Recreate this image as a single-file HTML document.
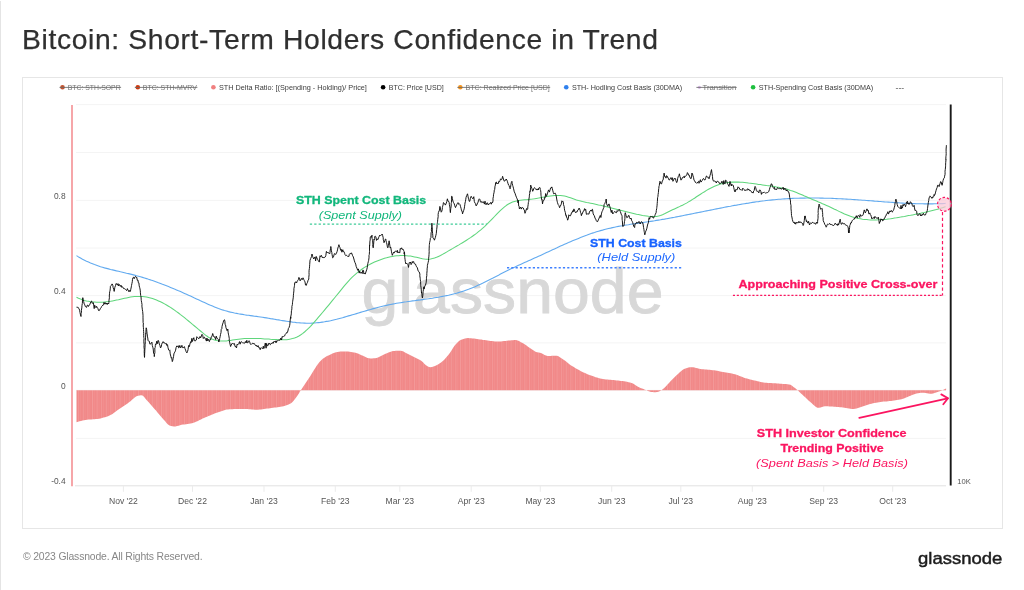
<!DOCTYPE html>
<html lang="en"><head><meta charset="utf-8"><title>Bitcoin: Short-Term Holders Confidence in Trend</title>
<style>
html,body{margin:0;padding:0;background:#fff;}
body{width:1024px;height:590px;position:relative;overflow:hidden;font-family:"Liberation Sans",sans-serif;}
.edge{position:absolute;left:0;top:1px;width:1px;height:589px;background:#e4e4e4;}
h1{position:absolute;left:22.3px;top:23px;transform-origin:0 0;transform:scaleX(1.032);margin:0;font-size:27.4px;line-height:34px;font-weight:400;color:#2f2f2f;white-space:nowrap;letter-spacing:0.62px;-webkit-text-stroke:0.25px #2f2f2f;}
.box{position:absolute;left:22px;top:76.5px;width:981px;height:452px;border:1px solid #e6e6e6;box-sizing:border-box;}
.foot{position:absolute;left:23px;top:549.9px;font-size:10.4px;line-height:14px;color:#878787;white-space:nowrap;letter-spacing:-0.16px;}
svg{position:absolute;left:0;top:0;}
svg text{font-family:"Liberation Sans",sans-serif;}
</style></head><body>
<div class="edge"></div>
<h1>Bitcoin: Short-Term Holders Confidence in Trend</h1>
<div class="box"></div>
<svg width="1024" height="590" viewBox="0 0 1024 590">
<defs>
<clipPath id="hc"><path d="M76.5 390.2 L76.5 422.3 L78.0 421.8 L79.5 421.3 L81.0 420.9 L82.5 420.5 L84.0 420.2 L85.5 419.9 L87.0 419.7 L88.5 419.6 L90.0 419.5 L91.5 419.4 L93.0 419.3 L94.5 419.2 L96.0 419.1 L97.5 418.9 L99.0 418.7 L100.5 418.4 L102.0 418.0 L103.5 417.6 L105.0 417.2 L106.5 416.7 L108.0 416.2 L109.5 415.6 L111.0 414.8 L112.5 413.9 L114.0 412.8 L115.5 411.7 L117.0 410.5 L118.5 409.4 L120.0 408.4 L121.5 407.4 L123.0 406.4 L124.5 405.4 L126.0 404.4 L127.5 403.4 L129.0 402.3 L130.5 401.2 L132.0 399.8 L133.5 398.4 L135.0 397.2 L136.5 396.2 L138.0 395.7 L139.5 395.4 L141.0 395.2 L142.5 395.4 L144.0 396.8 L145.5 398.7 L147.0 400.5 L148.5 402.1 L150.0 403.8 L151.5 405.5 L153.0 407.2 L154.5 408.9 L156.0 410.6 L157.5 412.4 L159.0 414.2 L160.5 416.0 L162.0 417.7 L163.5 419.4 L165.0 421.1 L166.5 422.9 L168.0 424.5 L169.5 425.4 L171.0 425.9 L172.5 426.3 L174.0 426.5 L175.5 426.4 L177.0 426.1 L178.5 425.7 L180.0 425.2 L181.5 424.8 L183.0 424.6 L184.5 424.4 L186.0 424.2 L187.5 424.0 L189.0 423.8 L190.5 423.5 L192.0 423.2 L193.5 422.8 L195.0 422.3 L196.5 421.6 L198.0 420.9 L199.5 420.1 L201.0 419.4 L202.5 418.6 L204.0 417.9 L205.5 417.3 L207.0 416.7 L208.5 416.0 L210.0 415.4 L211.5 414.8 L213.0 414.2 L214.5 413.6 L216.0 413.1 L217.5 412.6 L219.0 412.0 L220.5 411.5 L222.0 410.9 L223.5 410.4 L225.0 410.0 L226.5 409.6 L228.0 409.4 L229.5 409.2 L231.0 409.2 L232.5 409.2 L234.0 409.1 L235.5 409.1 L237.0 409.1 L238.5 409.0 L240.0 409.0 L241.5 409.0 L243.0 409.0 L244.5 409.0 L246.0 409.0 L247.5 409.1 L249.0 409.2 L250.5 409.3 L252.0 409.5 L253.5 409.6 L255.0 409.7 L256.5 409.7 L258.0 409.7 L259.5 409.6 L261.0 409.5 L262.5 409.3 L264.0 409.1 L265.5 408.8 L267.0 408.6 L268.5 408.4 L270.0 408.2 L271.5 408.0 L273.0 407.8 L274.5 407.6 L276.0 407.5 L277.5 407.3 L279.0 407.0 L280.5 406.8 L282.0 406.5 L283.5 406.2 L285.0 405.8 L286.5 405.3 L288.0 404.7 L289.5 404.0 L291.0 403.2 L292.5 401.9 L294.0 400.2 L295.5 398.2 L297.0 396.2 L298.5 394.0 L300.0 391.6 L301.5 389.3 L303.0 387.1 L304.5 384.8 L306.0 382.5 L307.5 380.3 L309.0 378.0 L310.5 375.7 L312.0 373.3 L313.5 370.8 L315.0 368.4 L316.5 366.1 L318.0 364.0 L319.5 362.1 L321.0 360.4 L322.5 359.0 L324.0 357.9 L325.5 356.9 L327.0 356.1 L328.5 355.4 L330.0 354.7 L331.5 354.0 L333.0 353.3 L334.5 352.7 L336.0 352.2 L337.5 351.9 L339.0 351.8 L340.5 351.6 L342.0 351.5 L343.5 351.4 L345.0 351.4 L346.5 351.4 L348.0 351.5 L349.5 351.7 L351.0 351.9 L352.5 352.2 L354.0 352.4 L355.5 352.7 L357.0 353.2 L358.5 353.8 L360.0 354.5 L361.5 355.2 L363.0 355.8 L364.5 356.5 L366.0 357.2 L367.5 357.9 L369.0 358.3 L370.5 358.4 L372.0 358.4 L373.5 358.3 L375.0 358.2 L376.5 357.9 L378.0 357.4 L379.5 356.8 L381.0 356.0 L382.5 355.2 L384.0 354.4 L385.5 353.8 L387.0 353.2 L388.5 352.5 L390.0 351.9 L391.5 351.4 L393.0 351.0 L394.5 350.9 L396.0 350.8 L397.5 350.7 L399.0 350.7 L400.5 350.7 L402.0 350.9 L403.5 351.6 L405.0 352.4 L406.5 353.2 L408.0 354.0 L409.5 354.7 L411.0 355.5 L412.5 356.2 L414.0 357.0 L415.5 357.8 L417.0 358.5 L418.5 359.2 L420.0 360.0 L421.5 360.9 L423.0 362.2 L424.5 363.9 L426.0 365.3 L427.5 366.2 L429.0 366.9 L430.5 367.2 L432.0 367.0 L433.5 366.5 L435.0 365.9 L436.5 365.3 L438.0 364.5 L439.5 363.6 L441.0 362.5 L442.5 361.3 L444.0 359.9 L445.5 358.3 L447.0 356.6 L448.5 354.7 L450.0 352.8 L451.5 350.4 L453.0 348.0 L454.5 345.8 L456.0 344.0 L457.5 342.4 L459.0 341.0 L460.5 340.1 L462.0 339.5 L463.5 338.9 L465.0 338.5 L466.5 338.2 L468.0 338.1 L469.5 338.2 L471.0 338.3 L472.5 338.4 L474.0 338.6 L475.5 338.8 L477.0 339.0 L478.5 339.2 L480.0 339.4 L481.5 339.6 L483.0 339.9 L484.5 340.1 L486.0 340.3 L487.5 340.6 L489.0 340.7 L490.5 340.9 L492.0 341.1 L493.5 341.3 L495.0 341.5 L496.5 341.6 L498.0 341.6 L499.5 341.6 L501.0 341.5 L502.5 341.3 L504.0 341.1 L505.5 340.9 L507.0 340.7 L508.5 340.6 L510.0 340.5 L511.5 340.3 L513.0 340.2 L514.5 340.1 L516.0 340.1 L517.5 340.5 L519.0 341.1 L520.5 341.9 L522.0 342.7 L523.5 343.5 L525.0 344.6 L526.5 345.6 L528.0 346.7 L529.5 347.7 L531.0 348.7 L532.5 349.8 L534.0 350.8 L535.5 351.7 L537.0 352.2 L538.5 352.4 L540.0 352.7 L541.5 353.2 L543.0 354.1 L544.5 354.9 L546.0 355.6 L547.5 355.9 L549.0 355.9 L550.5 355.9 L552.0 355.8 L553.5 355.7 L555.0 355.7 L556.5 355.7 L558.0 356.1 L559.5 356.9 L561.0 357.9 L562.5 358.9 L564.0 359.9 L565.5 361.1 L567.0 362.3 L568.5 363.6 L570.0 364.7 L571.5 365.7 L573.0 366.6 L574.5 367.6 L576.0 368.5 L577.5 369.3 L579.0 370.1 L580.5 370.9 L582.0 371.7 L583.5 372.4 L585.0 373.1 L586.5 373.8 L588.0 374.4 L589.5 375.0 L591.0 375.6 L592.5 376.1 L594.0 376.6 L595.5 377.2 L597.0 377.6 L598.5 378.1 L600.0 378.5 L601.5 378.8 L603.0 379.0 L604.5 379.2 L606.0 379.4 L607.5 379.6 L609.0 379.7 L610.5 379.8 L612.0 379.9 L613.5 380.1 L615.0 380.2 L616.5 380.4 L618.0 380.5 L619.5 380.7 L621.0 380.9 L622.5 381.1 L624.0 381.3 L625.5 381.5 L627.0 381.8 L628.5 382.2 L630.0 382.6 L631.5 383.1 L633.0 383.6 L634.5 384.4 L636.0 385.4 L637.5 386.4 L639.0 387.3 L640.5 387.9 L642.0 388.5 L643.5 389.1 L645.0 389.7 L646.5 390.3 L648.0 391.0 L649.5 391.6 L651.0 391.9 L652.5 392.1 L654.0 392.2 L655.5 392.3 L657.0 392.1 L658.5 391.7 L660.0 391.1 L661.5 390.3 L663.0 389.1 L664.5 387.8 L666.0 386.2 L667.5 384.6 L669.0 382.9 L670.5 381.3 L672.0 379.8 L673.5 378.2 L675.0 376.7 L676.5 375.2 L678.0 373.9 L679.5 372.5 L681.0 371.2 L682.5 370.0 L684.0 369.1 L685.5 368.4 L687.0 368.0 L688.5 367.6 L690.0 367.3 L691.5 367.2 L693.0 367.3 L694.5 367.5 L696.0 367.9 L697.5 368.3 L699.0 368.7 L700.5 369.0 L702.0 369.2 L703.5 369.3 L705.0 369.5 L706.5 369.6 L708.0 369.7 L709.5 369.8 L711.0 370.0 L712.5 370.2 L714.0 370.3 L715.5 370.6 L717.0 370.8 L718.5 371.1 L720.0 371.4 L721.5 371.7 L723.0 372.0 L724.5 372.2 L726.0 372.5 L727.5 372.8 L729.0 373.0 L730.5 373.3 L732.0 373.6 L733.5 374.0 L735.0 374.3 L736.5 374.7 L738.0 375.3 L739.5 375.9 L741.0 376.5 L742.5 377.1 L744.0 377.7 L745.5 378.2 L747.0 378.6 L748.5 379.1 L750.0 379.4 L751.5 379.8 L753.0 380.2 L754.5 380.5 L756.0 380.8 L757.5 381.2 L759.0 381.5 L760.5 381.9 L762.0 382.2 L763.5 382.5 L765.0 382.7 L766.5 382.8 L768.0 382.9 L769.5 383.0 L771.0 383.1 L772.5 383.2 L774.0 383.3 L775.5 383.3 L777.0 383.4 L778.5 383.5 L780.0 383.7 L781.5 383.8 L783.0 383.9 L784.5 384.0 L786.0 384.1 L787.5 384.3 L789.0 384.5 L790.5 384.8 L792.0 385.8 L793.5 387.0 L795.0 388.1 L796.5 389.3 L798.0 390.6 L799.5 391.9 L801.0 393.4 L802.5 394.8 L804.0 396.2 L805.5 397.6 L807.0 399.0 L808.5 400.4 L810.0 401.8 L811.5 403.1 L813.0 404.4 L814.5 405.8 L816.0 407.1 L817.5 407.7 L819.0 407.7 L820.5 407.4 L822.0 407.1 L823.5 406.6 L825.0 406.3 L826.5 406.3 L828.0 406.3 L829.5 406.4 L831.0 406.5 L832.5 406.6 L834.0 406.7 L835.5 406.8 L837.0 406.9 L838.5 407.0 L840.0 407.2 L841.5 407.3 L843.0 407.5 L844.5 407.7 L846.0 407.9 L847.5 408.2 L849.0 408.5 L850.5 408.8 L852.0 409.0 L853.5 409.0 L855.0 408.8 L856.5 408.4 L858.0 407.9 L859.5 407.5 L861.0 407.0 L862.5 406.6 L864.0 406.0 L865.5 405.5 L867.0 405.0 L868.5 404.5 L870.0 404.1 L871.5 403.7 L873.0 403.3 L874.5 403.0 L876.0 402.7 L877.5 402.4 L879.0 402.2 L880.5 402.0 L882.0 401.8 L883.5 401.6 L885.0 401.5 L886.5 401.4 L888.0 401.2 L889.5 401.1 L891.0 400.9 L892.5 400.7 L894.0 400.5 L895.5 400.3 L897.0 400.1 L898.5 399.8 L900.0 399.6 L901.5 399.2 L903.0 398.7 L904.5 398.2 L906.0 397.5 L907.5 396.9 L909.0 396.3 L910.5 395.7 L912.0 395.1 L913.5 394.5 L915.0 393.9 L916.5 393.5 L918.0 393.2 L919.5 393.0 L921.0 392.8 L922.5 392.7 L924.0 392.7 L925.5 393.0 L927.0 393.2 L928.5 393.5 L930.0 393.7 L931.5 393.7 L933.0 393.4 L934.5 393.0 L936.0 392.6 L937.5 392.1 L939.0 391.6 L940.5 391.1 L942.0 390.4 L943.5 389.8 L945.0 389.0 L946.1 388.4 L946.1 390.2 Z"/></clipPath>
<pattern id="stripes" width="4.6" height="10" patternUnits="userSpaceOnUse"><rect x="0" y="0" width="0.7" height="10" fill="#ffffff" opacity="0.18"/><rect x="2.3" y="0" width="0.5" height="10" fill="#ffffff" opacity="0.1"/></pattern>
</defs>
<g stroke="#f4f4f4" stroke-width="1" fill="none"><line x1="76" x2="946" y1="104.6" y2="104.6"/><line x1="76" x2="946" y1="152.5" y2="152.5"/><line x1="76" x2="946" y1="200.4" y2="200.4"/><line x1="76" x2="946" y1="248.0" y2="248.0"/><line x1="76" x2="946" y1="295.6" y2="295.6"/><line x1="76" x2="946" y1="342.9" y2="342.9"/><line x1="76" x2="946" y1="390.3" y2="390.3"/><line x1="76" x2="946" y1="438.4" y2="438.4"/></g>
<g stroke="#e2e2e2" stroke-width="1" fill="none"><line x1="75" x2="946" y1="485.8" y2="485.8"/></g><g stroke="#ebebeb" stroke-width="1" fill="none"><line x1="123.4" x2="123.4" y1="485.8" y2="491.8"/><line x1="192.5" x2="192.5" y1="485.8" y2="491.8"/><line x1="264.0" x2="264.0" y1="485.8" y2="491.8"/><line x1="335.3" x2="335.3" y1="485.8" y2="491.8"/><line x1="399.8" x2="399.8" y1="485.8" y2="491.8"/><line x1="471.2" x2="471.2" y1="485.8" y2="491.8"/><line x1="540.3" x2="540.3" y1="485.8" y2="491.8"/><line x1="611.7" x2="611.7" y1="485.8" y2="491.8"/><line x1="680.8" x2="680.8" y1="485.8" y2="491.8"/><line x1="752.3" x2="752.3" y1="485.8" y2="491.8"/><line x1="823.7" x2="823.7" y1="485.8" y2="491.8"/><line x1="892.7" x2="892.7" y1="485.8" y2="491.8"/></g>
<text x="361.5" y="313.2" font-size="62.5" fill="#d8d8d8" textLength="302" lengthAdjust="spacingAndGlyphs" stroke="#d8d8d8" stroke-width="0.8">glassnode</text>
<path d="M76.5 390.2 L76.5 422.3 L78.0 421.8 L79.5 421.3 L81.0 420.9 L82.5 420.5 L84.0 420.2 L85.5 419.9 L87.0 419.7 L88.5 419.6 L90.0 419.5 L91.5 419.4 L93.0 419.3 L94.5 419.2 L96.0 419.1 L97.5 418.9 L99.0 418.7 L100.5 418.4 L102.0 418.0 L103.5 417.6 L105.0 417.2 L106.5 416.7 L108.0 416.2 L109.5 415.6 L111.0 414.8 L112.5 413.9 L114.0 412.8 L115.5 411.7 L117.0 410.5 L118.5 409.4 L120.0 408.4 L121.5 407.4 L123.0 406.4 L124.5 405.4 L126.0 404.4 L127.5 403.4 L129.0 402.3 L130.5 401.2 L132.0 399.8 L133.5 398.4 L135.0 397.2 L136.5 396.2 L138.0 395.7 L139.5 395.4 L141.0 395.2 L142.5 395.4 L144.0 396.8 L145.5 398.7 L147.0 400.5 L148.5 402.1 L150.0 403.8 L151.5 405.5 L153.0 407.2 L154.5 408.9 L156.0 410.6 L157.5 412.4 L159.0 414.2 L160.5 416.0 L162.0 417.7 L163.5 419.4 L165.0 421.1 L166.5 422.9 L168.0 424.5 L169.5 425.4 L171.0 425.9 L172.5 426.3 L174.0 426.5 L175.5 426.4 L177.0 426.1 L178.5 425.7 L180.0 425.2 L181.5 424.8 L183.0 424.6 L184.5 424.4 L186.0 424.2 L187.5 424.0 L189.0 423.8 L190.5 423.5 L192.0 423.2 L193.5 422.8 L195.0 422.3 L196.5 421.6 L198.0 420.9 L199.5 420.1 L201.0 419.4 L202.5 418.6 L204.0 417.9 L205.5 417.3 L207.0 416.7 L208.5 416.0 L210.0 415.4 L211.5 414.8 L213.0 414.2 L214.5 413.6 L216.0 413.1 L217.5 412.6 L219.0 412.0 L220.5 411.5 L222.0 410.9 L223.5 410.4 L225.0 410.0 L226.5 409.6 L228.0 409.4 L229.5 409.2 L231.0 409.2 L232.5 409.2 L234.0 409.1 L235.5 409.1 L237.0 409.1 L238.5 409.0 L240.0 409.0 L241.5 409.0 L243.0 409.0 L244.5 409.0 L246.0 409.0 L247.5 409.1 L249.0 409.2 L250.5 409.3 L252.0 409.5 L253.5 409.6 L255.0 409.7 L256.5 409.7 L258.0 409.7 L259.5 409.6 L261.0 409.5 L262.5 409.3 L264.0 409.1 L265.5 408.8 L267.0 408.6 L268.5 408.4 L270.0 408.2 L271.5 408.0 L273.0 407.8 L274.5 407.6 L276.0 407.5 L277.5 407.3 L279.0 407.0 L280.5 406.8 L282.0 406.5 L283.5 406.2 L285.0 405.8 L286.5 405.3 L288.0 404.7 L289.5 404.0 L291.0 403.2 L292.5 401.9 L294.0 400.2 L295.5 398.2 L297.0 396.2 L298.5 394.0 L300.0 391.6 L301.5 389.3 L303.0 387.1 L304.5 384.8 L306.0 382.5 L307.5 380.3 L309.0 378.0 L310.5 375.7 L312.0 373.3 L313.5 370.8 L315.0 368.4 L316.5 366.1 L318.0 364.0 L319.5 362.1 L321.0 360.4 L322.5 359.0 L324.0 357.9 L325.5 356.9 L327.0 356.1 L328.5 355.4 L330.0 354.7 L331.5 354.0 L333.0 353.3 L334.5 352.7 L336.0 352.2 L337.5 351.9 L339.0 351.8 L340.5 351.6 L342.0 351.5 L343.5 351.4 L345.0 351.4 L346.5 351.4 L348.0 351.5 L349.5 351.7 L351.0 351.9 L352.5 352.2 L354.0 352.4 L355.5 352.7 L357.0 353.2 L358.5 353.8 L360.0 354.5 L361.5 355.2 L363.0 355.8 L364.5 356.5 L366.0 357.2 L367.5 357.9 L369.0 358.3 L370.5 358.4 L372.0 358.4 L373.5 358.3 L375.0 358.2 L376.5 357.9 L378.0 357.4 L379.5 356.8 L381.0 356.0 L382.5 355.2 L384.0 354.4 L385.5 353.8 L387.0 353.2 L388.5 352.5 L390.0 351.9 L391.5 351.4 L393.0 351.0 L394.5 350.9 L396.0 350.8 L397.5 350.7 L399.0 350.7 L400.5 350.7 L402.0 350.9 L403.5 351.6 L405.0 352.4 L406.5 353.2 L408.0 354.0 L409.5 354.7 L411.0 355.5 L412.5 356.2 L414.0 357.0 L415.5 357.8 L417.0 358.5 L418.5 359.2 L420.0 360.0 L421.5 360.9 L423.0 362.2 L424.5 363.9 L426.0 365.3 L427.5 366.2 L429.0 366.9 L430.5 367.2 L432.0 367.0 L433.5 366.5 L435.0 365.9 L436.5 365.3 L438.0 364.5 L439.5 363.6 L441.0 362.5 L442.5 361.3 L444.0 359.9 L445.5 358.3 L447.0 356.6 L448.5 354.7 L450.0 352.8 L451.5 350.4 L453.0 348.0 L454.5 345.8 L456.0 344.0 L457.5 342.4 L459.0 341.0 L460.5 340.1 L462.0 339.5 L463.5 338.9 L465.0 338.5 L466.5 338.2 L468.0 338.1 L469.5 338.2 L471.0 338.3 L472.5 338.4 L474.0 338.6 L475.5 338.8 L477.0 339.0 L478.5 339.2 L480.0 339.4 L481.5 339.6 L483.0 339.9 L484.5 340.1 L486.0 340.3 L487.5 340.6 L489.0 340.7 L490.5 340.9 L492.0 341.1 L493.5 341.3 L495.0 341.5 L496.5 341.6 L498.0 341.6 L499.5 341.6 L501.0 341.5 L502.5 341.3 L504.0 341.1 L505.5 340.9 L507.0 340.7 L508.5 340.6 L510.0 340.5 L511.5 340.3 L513.0 340.2 L514.5 340.1 L516.0 340.1 L517.5 340.5 L519.0 341.1 L520.5 341.9 L522.0 342.7 L523.5 343.5 L525.0 344.6 L526.5 345.6 L528.0 346.7 L529.5 347.7 L531.0 348.7 L532.5 349.8 L534.0 350.8 L535.5 351.7 L537.0 352.2 L538.5 352.4 L540.0 352.7 L541.5 353.2 L543.0 354.1 L544.5 354.9 L546.0 355.6 L547.5 355.9 L549.0 355.9 L550.5 355.9 L552.0 355.8 L553.5 355.7 L555.0 355.7 L556.5 355.7 L558.0 356.1 L559.5 356.9 L561.0 357.9 L562.5 358.9 L564.0 359.9 L565.5 361.1 L567.0 362.3 L568.5 363.6 L570.0 364.7 L571.5 365.7 L573.0 366.6 L574.5 367.6 L576.0 368.5 L577.5 369.3 L579.0 370.1 L580.5 370.9 L582.0 371.7 L583.5 372.4 L585.0 373.1 L586.5 373.8 L588.0 374.4 L589.5 375.0 L591.0 375.6 L592.5 376.1 L594.0 376.6 L595.5 377.2 L597.0 377.6 L598.5 378.1 L600.0 378.5 L601.5 378.8 L603.0 379.0 L604.5 379.2 L606.0 379.4 L607.5 379.6 L609.0 379.7 L610.5 379.8 L612.0 379.9 L613.5 380.1 L615.0 380.2 L616.5 380.4 L618.0 380.5 L619.5 380.7 L621.0 380.9 L622.5 381.1 L624.0 381.3 L625.5 381.5 L627.0 381.8 L628.5 382.2 L630.0 382.6 L631.5 383.1 L633.0 383.6 L634.5 384.4 L636.0 385.4 L637.5 386.4 L639.0 387.3 L640.5 387.9 L642.0 388.5 L643.5 389.1 L645.0 389.7 L646.5 390.3 L648.0 391.0 L649.5 391.6 L651.0 391.9 L652.5 392.1 L654.0 392.2 L655.5 392.3 L657.0 392.1 L658.5 391.7 L660.0 391.1 L661.5 390.3 L663.0 389.1 L664.5 387.8 L666.0 386.2 L667.5 384.6 L669.0 382.9 L670.5 381.3 L672.0 379.8 L673.5 378.2 L675.0 376.7 L676.5 375.2 L678.0 373.9 L679.5 372.5 L681.0 371.2 L682.5 370.0 L684.0 369.1 L685.5 368.4 L687.0 368.0 L688.5 367.6 L690.0 367.3 L691.5 367.2 L693.0 367.3 L694.5 367.5 L696.0 367.9 L697.5 368.3 L699.0 368.7 L700.5 369.0 L702.0 369.2 L703.5 369.3 L705.0 369.5 L706.5 369.6 L708.0 369.7 L709.5 369.8 L711.0 370.0 L712.5 370.2 L714.0 370.3 L715.5 370.6 L717.0 370.8 L718.5 371.1 L720.0 371.4 L721.5 371.7 L723.0 372.0 L724.5 372.2 L726.0 372.5 L727.5 372.8 L729.0 373.0 L730.5 373.3 L732.0 373.6 L733.5 374.0 L735.0 374.3 L736.5 374.7 L738.0 375.3 L739.5 375.9 L741.0 376.5 L742.5 377.1 L744.0 377.7 L745.5 378.2 L747.0 378.6 L748.5 379.1 L750.0 379.4 L751.5 379.8 L753.0 380.2 L754.5 380.5 L756.0 380.8 L757.5 381.2 L759.0 381.5 L760.5 381.9 L762.0 382.2 L763.5 382.5 L765.0 382.7 L766.5 382.8 L768.0 382.9 L769.5 383.0 L771.0 383.1 L772.5 383.2 L774.0 383.3 L775.5 383.3 L777.0 383.4 L778.5 383.5 L780.0 383.7 L781.5 383.8 L783.0 383.9 L784.5 384.0 L786.0 384.1 L787.5 384.3 L789.0 384.5 L790.5 384.8 L792.0 385.8 L793.5 387.0 L795.0 388.1 L796.5 389.3 L798.0 390.6 L799.5 391.9 L801.0 393.4 L802.5 394.8 L804.0 396.2 L805.5 397.6 L807.0 399.0 L808.5 400.4 L810.0 401.8 L811.5 403.1 L813.0 404.4 L814.5 405.8 L816.0 407.1 L817.5 407.7 L819.0 407.7 L820.5 407.4 L822.0 407.1 L823.5 406.6 L825.0 406.3 L826.5 406.3 L828.0 406.3 L829.5 406.4 L831.0 406.5 L832.5 406.6 L834.0 406.7 L835.5 406.8 L837.0 406.9 L838.5 407.0 L840.0 407.2 L841.5 407.3 L843.0 407.5 L844.5 407.7 L846.0 407.9 L847.5 408.2 L849.0 408.5 L850.5 408.8 L852.0 409.0 L853.5 409.0 L855.0 408.8 L856.5 408.4 L858.0 407.9 L859.5 407.5 L861.0 407.0 L862.5 406.6 L864.0 406.0 L865.5 405.5 L867.0 405.0 L868.5 404.5 L870.0 404.1 L871.5 403.7 L873.0 403.3 L874.5 403.0 L876.0 402.7 L877.5 402.4 L879.0 402.2 L880.5 402.0 L882.0 401.8 L883.5 401.6 L885.0 401.5 L886.5 401.4 L888.0 401.2 L889.5 401.1 L891.0 400.9 L892.5 400.7 L894.0 400.5 L895.5 400.3 L897.0 400.1 L898.5 399.8 L900.0 399.6 L901.5 399.2 L903.0 398.7 L904.5 398.2 L906.0 397.5 L907.5 396.9 L909.0 396.3 L910.5 395.7 L912.0 395.1 L913.5 394.5 L915.0 393.9 L916.5 393.5 L918.0 393.2 L919.5 393.0 L921.0 392.8 L922.5 392.7 L924.0 392.7 L925.5 393.0 L927.0 393.2 L928.5 393.5 L930.0 393.7 L931.5 393.7 L933.0 393.4 L934.5 393.0 L936.0 392.6 L937.5 392.1 L939.0 391.6 L940.5 391.1 L942.0 390.4 L943.5 389.8 L945.0 389.0 L946.1 388.4 L946.1 390.2 Z" fill="#f18888"/>
<rect x="70" y="330" width="880" height="110" fill="url(#stripes)" clip-path="url(#hc)"/>
<path d="M76.5 255.6 L78.5 256.9 L80.5 258.0 L82.5 259.2 L84.5 260.2 L86.5 261.2 L88.5 262.1 L90.5 263.0 L92.5 263.8 L94.5 264.6 L96.5 265.3 L98.5 266.0 L100.5 266.7 L102.5 267.3 L104.5 267.9 L106.5 268.4 L108.5 268.9 L110.5 269.5 L112.5 269.9 L114.5 270.4 L116.5 270.9 L118.5 271.3 L120.5 271.8 L122.5 272.2 L124.5 272.7 L126.5 273.2 L128.5 273.6 L130.5 274.1 L132.5 274.6 L134.5 275.1 L136.5 275.7 L138.5 276.2 L140.5 276.8 L142.5 277.4 L144.5 278.0 L146.5 278.6 L148.5 279.3 L150.5 279.9 L152.5 280.6 L154.5 281.3 L156.5 282.0 L158.5 282.8 L160.5 283.5 L162.5 284.3 L164.5 285.0 L166.5 285.8 L168.5 286.6 L170.5 287.4 L172.5 288.2 L174.5 289.1 L176.5 289.9 L178.5 290.8 L180.5 291.6 L182.5 292.5 L184.5 293.4 L186.5 294.3 L188.5 295.2 L190.5 296.1 L192.5 297.0 L194.5 298.0 L196.5 298.9 L198.5 299.8 L200.5 300.8 L202.5 301.7 L204.5 302.6 L206.5 303.5 L208.5 304.4 L210.5 305.3 L212.5 306.1 L214.5 306.9 L216.5 307.7 L218.5 308.5 L220.5 309.2 L222.5 309.9 L224.5 310.5 L226.5 311.0 L228.5 311.6 L230.5 312.1 L232.5 312.5 L234.5 313.0 L236.5 313.4 L238.5 313.8 L240.5 314.1 L242.5 314.4 L244.5 314.8 L246.5 315.1 L248.5 315.3 L250.5 315.6 L252.5 315.9 L254.5 316.2 L256.5 316.4 L258.5 316.7 L260.5 317.0 L262.5 317.3 L264.5 317.6 L266.5 317.9 L268.5 318.2 L270.5 318.6 L272.5 318.9 L274.5 319.2 L276.5 319.6 L278.5 319.9 L280.5 320.3 L282.5 320.6 L284.5 320.9 L286.5 321.2 L288.5 321.5 L290.5 321.8 L292.5 322.1 L294.5 322.3 L296.5 322.6 L298.5 322.7 L300.5 322.9 L302.5 323.0 L304.5 323.1 L306.5 323.2 L308.5 323.2 L310.5 323.2 L312.5 323.1 L314.5 323.0 L316.5 322.8 L318.5 322.6 L320.5 322.4 L322.5 322.1 L324.5 321.8 L326.5 321.4 L328.5 321.1 L330.5 320.7 L332.5 320.2 L334.5 319.7 L336.5 319.3 L338.5 318.7 L340.5 318.2 L342.5 317.7 L344.5 317.1 L346.5 316.5 L348.5 315.9 L350.5 315.4 L352.5 314.8 L354.5 314.2 L356.5 313.6 L358.5 313.0 L360.5 312.4 L362.5 311.8 L364.5 311.2 L366.5 310.6 L368.5 310.0 L370.5 309.5 L372.5 308.9 L374.5 308.4 L376.5 307.8 L378.5 307.3 L380.5 306.8 L382.5 306.3 L384.5 305.8 L386.5 305.4 L388.5 304.9 L390.5 304.5 L392.5 304.1 L394.5 303.7 L396.5 303.3 L398.5 303.0 L400.5 302.7 L402.5 302.4 L404.5 302.0 L406.5 301.8 L408.5 301.5 L410.5 301.2 L412.5 300.9 L414.5 300.7 L416.5 300.4 L418.5 300.1 L420.5 299.9 L422.5 299.6 L424.5 299.3 L426.5 299.0 L428.5 298.8 L430.5 298.5 L432.5 298.2 L434.5 297.8 L436.5 297.5 L438.5 297.2 L440.5 296.8 L442.5 296.4 L444.5 296.0 L446.5 295.6 L448.5 295.2 L450.5 294.7 L452.5 294.2 L454.5 293.7 L456.5 293.2 L458.5 292.6 L460.5 292.0 L462.5 291.4 L464.5 290.7 L466.5 290.0 L468.5 289.3 L470.5 288.5 L472.5 287.7 L474.5 286.9 L476.5 286.0 L478.5 285.1 L480.5 284.2 L482.5 283.3 L484.5 282.3 L486.5 281.3 L488.5 280.3 L490.5 279.3 L492.5 278.3 L494.5 277.2 L496.5 276.2 L498.5 275.2 L500.5 274.1 L502.5 273.1 L504.5 272.1 L506.5 271.1 L508.5 270.1 L510.5 269.1 L512.5 268.1 L514.5 267.2 L516.5 266.2 L518.5 265.3 L520.5 264.4 L522.5 263.5 L524.5 262.6 L526.5 261.7 L528.5 260.8 L530.5 259.9 L532.5 259.0 L534.5 258.1 L536.5 257.2 L538.5 256.3 L540.5 255.4 L542.5 254.5 L544.5 253.6 L546.5 252.6 L548.5 251.7 L550.5 250.8 L552.5 249.8 L554.5 248.9 L556.5 248.0 L558.5 247.0 L560.5 246.1 L562.5 245.2 L564.5 244.3 L566.5 243.4 L568.5 242.6 L570.5 241.7 L572.5 240.8 L574.5 240.0 L576.5 239.2 L578.5 238.4 L580.5 237.6 L582.5 236.8 L584.5 236.0 L586.5 235.3 L588.5 234.5 L590.5 233.8 L592.5 233.1 L594.5 232.5 L596.5 231.8 L598.5 231.2 L600.5 230.6 L602.5 230.1 L604.5 229.5 L606.5 229.0 L608.5 228.5 L610.5 228.1 L612.5 227.6 L614.5 227.2 L616.5 226.8 L618.5 226.4 L620.5 226.0 L622.5 225.7 L624.5 225.3 L626.5 225.0 L628.5 224.7 L630.5 224.3 L632.5 224.0 L634.5 223.7 L636.5 223.4 L638.5 223.1 L640.5 222.9 L642.5 222.6 L644.5 222.3 L646.5 222.0 L648.5 221.7 L650.5 221.4 L652.5 221.1 L654.5 220.8 L656.5 220.4 L658.5 220.1 L660.5 219.8 L662.5 219.4 L664.5 219.1 L666.5 218.7 L668.5 218.4 L670.5 218.0 L672.5 217.6 L674.5 217.3 L676.5 216.9 L678.5 216.5 L680.5 216.1 L682.5 215.7 L684.5 215.3 L686.5 214.9 L688.5 214.5 L690.5 214.1 L692.5 213.7 L694.5 213.3 L696.5 212.9 L698.5 212.5 L700.5 212.1 L702.5 211.7 L704.5 211.3 L706.5 210.9 L708.5 210.5 L710.5 210.1 L712.5 209.7 L714.5 209.3 L716.5 208.9 L718.5 208.5 L720.5 208.1 L722.5 207.7 L724.5 207.3 L726.5 206.9 L728.5 206.5 L730.5 206.2 L732.5 205.8 L734.5 205.4 L736.5 205.1 L738.5 204.7 L740.5 204.4 L742.5 204.0 L744.5 203.7 L746.5 203.4 L748.5 203.1 L750.5 202.7 L752.5 202.4 L754.5 202.1 L756.5 201.8 L758.5 201.6 L760.5 201.3 L762.5 201.0 L764.5 200.8 L766.5 200.5 L768.5 200.3 L770.5 200.1 L772.5 199.9 L774.5 199.7 L776.5 199.5 L778.5 199.3 L780.5 199.2 L782.5 199.0 L784.5 198.9 L786.5 198.8 L788.5 198.6 L790.5 198.5 L792.5 198.4 L794.5 198.3 L796.5 198.3 L798.5 198.2 L800.5 198.1 L802.5 198.1 L804.5 198.1 L806.5 198.0 L808.5 198.0 L810.5 198.0 L812.5 198.0 L814.5 198.0 L816.5 198.0 L818.5 198.0 L820.5 198.1 L822.5 198.1 L824.5 198.2 L826.5 198.2 L828.5 198.3 L830.5 198.3 L832.5 198.4 L834.5 198.5 L836.5 198.6 L838.5 198.7 L840.5 198.8 L842.5 198.9 L844.5 199.0 L846.5 199.1 L848.5 199.2 L850.5 199.3 L852.5 199.5 L854.5 199.6 L856.5 199.7 L858.5 199.9 L860.5 200.0 L862.5 200.2 L864.5 200.3 L866.5 200.5 L868.5 200.6 L870.5 200.8 L872.5 200.9 L874.5 201.1 L876.5 201.2 L878.5 201.4 L880.5 201.5 L882.5 201.7 L884.5 201.9 L886.5 202.0 L888.5 202.1 L890.5 202.3 L892.5 202.4 L894.5 202.6 L896.5 202.7 L898.5 202.8 L900.5 203.0 L902.5 203.1 L904.5 203.2 L906.5 203.3 L908.5 203.4 L910.5 203.5 L912.5 203.6 L914.5 203.6 L916.5 203.7 L918.5 203.7 L920.5 203.8 L922.5 203.8 L924.5 203.9 L926.5 203.9 L928.5 203.9 L930.5 203.9 L932.5 203.9 L934.5 203.8 L936.5 203.8 L938.5 203.7 L940.5 203.6 L942.5 203.6 L944.5 203.5 L945.6 203.4" fill="none" stroke="#62aaef" stroke-width="1.1" stroke-linejoin="round"/>
<path d="M76.5 297.2 L78.5 298.2 L80.5 299.0 L82.5 299.7 L84.5 300.4 L86.5 300.9 L88.5 301.3 L90.5 301.7 L92.5 301.9 L94.5 302.1 L96.5 302.3 L98.5 302.3 L100.5 302.3 L102.5 302.2 L104.5 302.0 L106.5 301.8 L108.5 301.6 L110.5 301.3 L112.5 300.9 L114.5 300.5 L116.5 300.1 L118.5 299.7 L120.5 299.2 L122.5 298.7 L124.5 298.3 L126.5 297.9 L128.5 297.5 L130.5 297.1 L132.5 296.8 L134.5 296.6 L136.5 296.4 L138.5 296.4 L140.5 296.4 L142.5 296.5 L144.5 296.8 L146.5 297.1 L148.5 297.5 L150.5 298.0 L152.5 298.6 L154.5 299.3 L156.5 300.1 L158.5 300.9 L160.5 301.8 L162.5 302.8 L164.5 303.9 L166.5 305.0 L168.5 306.2 L170.5 307.4 L172.5 308.8 L174.5 310.1 L176.5 311.6 L178.5 313.0 L180.5 314.6 L182.5 316.1 L184.5 317.7 L186.5 319.4 L188.5 321.0 L190.5 322.7 L192.5 324.4 L194.5 326.0 L196.5 327.7 L198.5 329.4 L200.5 331.0 L202.5 332.7 L204.5 334.3 L206.5 335.8 L208.5 337.2 L210.5 338.4 L212.5 339.3 L214.5 340.0 L216.5 340.5 L218.5 340.8 L220.5 341.0 L222.5 341.1 L224.5 341.0 L226.5 340.9 L228.5 340.6 L230.5 340.4 L232.5 340.1 L234.5 339.8 L236.5 339.5 L238.5 339.2 L240.5 338.9 L242.5 338.7 L244.5 338.6 L246.5 338.5 L248.5 338.4 L250.5 338.4 L252.5 338.4 L254.5 338.4 L256.5 338.5 L258.5 338.5 L260.5 338.6 L262.5 338.7 L264.5 338.9 L266.5 339.0 L268.5 339.1 L270.5 339.3 L272.5 339.4 L274.5 339.5 L276.5 339.6 L278.5 339.7 L280.5 339.8 L282.5 339.8 L284.5 339.8 L286.5 339.7 L288.5 339.4 L290.5 339.1 L292.5 338.6 L294.5 338.0 L296.5 337.2 L298.5 336.2 L300.5 335.0 L302.5 333.6 L304.5 332.0 L306.5 330.2 L308.5 328.3 L310.5 326.3 L312.5 324.1 L314.5 321.9 L316.5 319.6 L318.5 317.2 L320.5 314.9 L322.5 312.5 L324.5 310.1 L326.5 307.7 L328.5 305.3 L330.5 302.9 L332.5 300.4 L334.5 298.0 L336.5 295.5 L338.5 293.1 L340.5 290.6 L342.5 288.1 L344.5 285.7 L346.5 283.3 L348.5 281.1 L350.5 278.9 L352.5 276.9 L354.5 275.1 L356.5 273.3 L358.5 271.7 L360.5 270.2 L362.5 268.8 L364.5 267.4 L366.5 266.2 L368.5 265.1 L370.5 264.0 L372.5 263.0 L374.5 262.1 L376.5 261.2 L378.5 260.4 L380.5 259.7 L382.5 259.0 L384.5 258.3 L386.5 257.8 L388.5 257.2 L390.5 256.8 L392.5 256.4 L394.5 256.1 L396.5 255.8 L398.5 255.7 L400.5 255.6 L402.5 255.5 L404.5 255.6 L406.5 255.7 L408.5 255.9 L410.5 256.1 L412.5 256.5 L414.5 256.9 L416.5 257.3 L418.5 257.8 L420.5 258.3 L422.5 258.7 L424.5 259.0 L426.5 259.2 L428.5 259.2 L430.5 259.0 L432.5 258.6 L434.5 258.0 L436.5 257.3 L438.5 256.4 L440.5 255.5 L442.5 254.4 L444.5 253.3 L446.5 252.1 L448.5 250.9 L450.5 249.7 L452.5 248.6 L454.5 247.4 L456.5 246.2 L458.5 245.1 L460.5 243.9 L462.5 242.7 L464.5 241.5 L466.5 240.2 L468.5 238.9 L470.5 237.6 L472.5 236.2 L474.5 234.8 L476.5 233.3 L478.5 231.7 L480.5 230.1 L482.5 228.4 L484.5 226.6 L486.5 224.7 L488.5 222.7 L490.5 220.7 L492.5 218.6 L494.5 216.5 L496.5 214.4 L498.5 212.4 L500.5 210.4 L502.5 208.6 L504.5 206.9 L506.5 205.3 L508.5 204.0 L510.5 203.0 L512.5 202.1 L514.5 201.4 L516.5 200.9 L518.5 200.5 L520.5 200.2 L522.5 200.0 L524.5 199.8 L526.5 199.7 L528.5 199.5 L530.5 199.3 L532.5 199.1 L534.5 198.8 L536.5 198.4 L538.5 198.1 L540.5 197.7 L542.5 197.3 L544.5 196.9 L546.5 196.6 L548.5 196.3 L550.5 196.0 L552.5 195.7 L554.5 195.6 L556.5 195.5 L558.5 195.5 L560.5 195.6 L562.5 195.8 L564.5 196.1 L566.5 196.6 L568.5 197.2 L570.5 197.8 L572.5 198.5 L574.5 199.2 L576.5 199.9 L578.5 200.5 L580.5 201.0 L582.5 201.5 L584.5 201.9 L586.5 202.4 L588.5 202.8 L590.5 203.2 L592.5 203.6 L594.5 204.0 L596.5 204.4 L598.5 204.9 L600.5 205.3 L602.5 205.8 L604.5 206.3 L606.5 206.7 L608.5 207.2 L610.5 207.7 L612.5 208.2 L614.5 208.7 L616.5 209.2 L618.5 209.7 L620.5 210.2 L622.5 210.7 L624.5 211.2 L626.5 211.7 L628.5 212.2 L630.5 212.7 L632.5 213.2 L634.5 213.7 L636.5 214.2 L638.5 214.6 L640.5 215.0 L642.5 215.4 L644.5 215.7 L646.5 216.0 L648.5 216.3 L650.5 216.5 L652.5 216.6 L654.5 216.6 L656.5 216.4 L658.5 216.1 L660.5 215.5 L662.5 214.7 L664.5 213.8 L666.5 212.8 L668.5 211.8 L670.5 210.8 L672.5 209.8 L674.5 208.9 L676.5 208.0 L678.5 207.1 L680.5 206.1 L682.5 205.2 L684.5 204.1 L686.5 203.1 L688.5 201.9 L690.5 200.7 L692.5 199.4 L694.5 198.2 L696.5 196.8 L698.5 195.5 L700.5 194.2 L702.5 192.9 L704.5 191.7 L706.5 190.4 L708.5 189.3 L710.5 188.2 L712.5 187.2 L714.5 186.2 L716.5 185.4 L718.5 184.7 L720.5 184.0 L722.5 183.5 L724.5 183.1 L726.5 182.7 L728.5 182.5 L730.5 182.3 L732.5 182.1 L734.5 182.1 L736.5 182.1 L738.5 182.1 L740.5 182.2 L742.5 182.3 L744.5 182.5 L746.5 182.7 L748.5 183.0 L750.5 183.2 L752.5 183.5 L754.5 183.8 L756.5 184.1 L758.5 184.4 L760.5 184.6 L762.5 184.9 L764.5 185.2 L766.5 185.5 L768.5 185.7 L770.5 186.0 L772.5 186.3 L774.5 186.6 L776.5 187.0 L778.5 187.3 L780.5 187.7 L782.5 188.2 L784.5 188.6 L786.5 189.1 L788.5 189.7 L790.5 190.4 L792.5 191.0 L794.5 191.8 L796.5 192.6 L798.5 193.4 L800.5 194.2 L802.5 195.1 L804.5 196.0 L806.5 196.8 L808.5 197.7 L810.5 198.6 L812.5 199.5 L814.5 200.3 L816.5 201.1 L818.5 202.0 L820.5 202.8 L822.5 203.7 L824.5 204.5 L826.5 205.4 L828.5 206.3 L830.5 207.2 L832.5 208.2 L834.5 209.2 L836.5 210.1 L838.5 211.1 L840.5 212.1 L842.5 213.0 L844.5 213.9 L846.5 214.7 L848.5 215.5 L850.5 216.3 L852.5 216.9 L854.5 217.5 L856.5 218.0 L858.5 218.5 L860.5 218.8 L862.5 219.2 L864.5 219.4 L866.5 219.6 L868.5 219.8 L870.5 219.9 L872.5 219.9 L874.5 219.9 L876.5 219.9 L878.5 219.8 L880.5 219.7 L882.5 219.6 L884.5 219.4 L886.5 219.2 L888.5 218.9 L890.5 218.7 L892.5 218.4 L894.5 218.1 L896.5 217.8 L898.5 217.4 L900.5 217.1 L902.5 216.7 L904.5 216.4 L906.5 216.0 L908.5 215.6 L910.5 215.3 L912.5 214.9 L914.5 214.5 L916.5 214.1 L918.5 213.7 L920.5 213.3 L922.5 212.8 L924.5 212.4 L926.5 211.9 L928.5 211.5 L930.5 211.0 L932.5 210.5 L934.5 210.0 L936.5 209.5 L938.5 208.9 L940.5 208.3 L942.5 207.7 L944.5 207.1 L945.6 206.8" fill="none" stroke="#5fd67c" stroke-width="1.05" stroke-linejoin="round"/>
<path d="M76.5 307.2 L77.1 307.5 L77.7 307.0 L78.4 308.2 L79.0 308.5 L79.6 310.2 L80.0 312.6 L80.5 314.9 L81.0 316.5 L81.1 313.5 L81.5 312.2 L81.4 310.3 L81.8 307.9 L82.0 305.3 L82.3 303.5 L82.4 303.2 L82.5 299.8 L82.8 297.7 L83.2 299.5 L83.7 301.6 L84.2 304.0 L84.8 304.8 L85.3 306.5 L86.0 306.9 L86.6 307.4 L87.1 305.4 L87.9 305.1 L88.4 306.5 L89.1 305.2 L89.7 304.8 L90.4 303.0 L90.9 301.7 L91.6 301.0 L92.2 303.3 L92.8 303.1 L93.4 302.7 L94.2 308.6 L94.7 305.2 L95.3 306.5 L96.0 307.7 L96.6 306.3 L97.4 307.8 L97.9 308.5 L98.5 310.5 L99.1 310.7 L99.6 310.3 L100.3 308.5 L101.1 307.8 L101.6 306.5 L102.2 306.0 L102.8 305.1 L103.6 304.9 L104.0 302.3 L104.6 304.1 L105.4 302.7 L106.0 304.2 L106.6 303.0 L107.3 304.5 L107.9 303.0 L108.6 304.0 L108.9 302.6 L109.0 300.1 L109.4 297.8 L109.3 296.0 L109.5 293.8 L109.7 291.7 L110.0 291.0 L110.3 288.1 L110.4 286.4 L110.9 285.6 L111.5 285.2 L112.1 283.9 L112.8 285.2 L113.1 287.4 L113.7 289.3 L114.2 291.4 L114.8 287.5 L115.5 285.5 L116.1 283.4 L116.7 283.9 L117.4 285.2 L118.0 283.6 L118.7 286.0 L119.2 284.5 L119.9 285.0 L120.4 286.4 L121.1 285.3 L121.7 287.3 L122.3 286.9 L123.0 287.2 L123.5 288.5 L124.2 288.9 L124.7 288.5 L125.5 289.5 L125.9 289.9 L126.7 290.6 L127.4 288.6 L127.9 290.2 L128.5 290.4 L129.0 291.9 L129.5 290.5 L130.4 291.4 L130.8 289.2 L131.3 286.9 L131.5 285.6 L131.9 283.6 L132.3 281.7 L132.5 279.3 L133.0 277.6 L133.5 277.2 L134.2 278.7 L134.6 277.4 L135.5 276.4 L136.1 277.6 L136.7 277.2 L137.3 280.3 L138.0 280.1 L138.3 282.7 L138.9 282.8 L139.2 285.9 L139.6 287.3 L140.0 288.9 L140.3 290.9 L140.4 292.8 L140.7 295.6 L141.0 296.6 L141.2 299.2 L141.3 300.6 L141.7 302.7 L142.0 304.5 L141.9 306.1 L142.3 309.1 L142.4 309.9 L142.7 311.6 L142.7 311.7 L143.0 315.3 L143.0 317.8 L143.1 322.1 L143.1 322.6 L143.4 322.9 L143.2 326.0 L143.4 327.3 L143.5 329.6 L143.6 331.4 L143.7 333.6 L143.7 335.3 L143.8 337.4 L144.0 338.4 L143.8 341.7 L144.2 345.1 L144.0 345.5 L144.0 347.3 L144.3 349.4 L144.2 351.9 L144.3 353.6 L144.3 355.2 L144.5 357.4 L144.6 355.8 L144.6 354.0 L144.8 351.6 L144.8 350.1 L145.0 347.1 L145.1 344.7 L145.2 344.4 L145.3 341.2 L145.4 340.6 L145.5 337.8 L145.7 335.0 L145.8 333.2 L145.9 333.7 L146.0 329.4 L146.2 327.8 L146.6 329.2 L146.8 331.2 L147.1 333.6 L147.5 336.9 L147.8 338.1 L148.0 340.3 L148.6 341.1 L149.3 341.2 L149.9 344.1 L150.5 344.1 L151.0 343.4 L151.9 342.2 L152.3 345.5 L153.0 347.9 L153.2 349.0 L153.4 351.0 L153.6 353.3 L154.2 354.3 L154.3 356.6 L154.5 354.4 L154.9 352.5 L154.8 347.9 L155.2 347.6 L155.3 345.7 L155.5 344.1 L156.2 344.5 L156.7 341.2 L157.5 343.6 L158.0 340.3 L158.6 340.8 L159.3 344.1 L159.9 345.4 L160.5 347.9 L161.2 346.9 L161.7 344.3 L162.3 342.8 L163.1 341.6 L163.7 342.8 L164.2 342.7 L165.0 343.2 L165.6 344.1 L166.2 343.4 L166.8 345.4 L167.5 344.6 L168.0 347.7 L168.7 350.0 L169.3 350.4 L169.8 349.9 L170.2 353.9 L170.8 356.2 L171.3 358.1 L171.7 357.6 L172.3 361.6 L172.8 360.2 L173.2 358.2 L173.6 356.3 L173.9 353.9 L174.3 352.9 L175.0 351.8 L175.6 350.2 L176.1 347.5 L176.8 345.9 L177.5 346.6 L178.2 345.7 L178.7 347.9 L179.2 347.5 L179.8 345.4 L180.6 347.9 L181.1 347.3 L181.9 345.3 L182.5 347.6 L183.1 347.7 L183.9 347.3 L184.4 346.6 L185.0 348.7 L185.6 350.1 L186.2 351.8 L186.9 352.9 L187.6 351.3 L188.0 349.7 L188.6 345.5 L189.4 346.6 L189.9 344.1 L190.7 341.7 L191.2 342.5 L191.9 338.3 L192.4 341.5 L193.0 339.6 L193.8 337.7 L194.3 340.5 L195.2 341.1 L195.6 340.3 L196.4 340.0 L196.8 336.7 L197.6 337.5 L198.2 337.9 L198.8 338.8 L199.4 337.8 L200.0 336.5 L200.6 337.9 L201.4 336.0 L202.0 334.3 L202.7 335.3 L203.3 338.5 L203.9 337.5 L204.5 337.2 L205.3 339.0 L205.7 339.1 L206.4 341.1 L206.9 338.0 L207.5 340.7 L208.1 339.1 L208.8 340.8 L209.4 341.6 L210.1 339.2 L210.7 339.6 L211.2 336.9 L211.9 336.6 L212.7 333.5 L213.4 335.6 L214.0 337.0 L214.8 337.0 L215.7 339.6 L216.2 336.1 L217.0 338.3 L217.5 338.5 L218.2 339.2 L218.8 342.0 L219.5 340.3 L219.7 338.6 L220.2 336.3 L220.5 334.5 L221.0 332.5 L221.2 329.5 L221.8 328.8 L222.0 326.5 L222.6 324.1 L223.1 322.8 L223.7 320.4 L224.5 319.8 L224.9 321.3 L225.1 324.3 L225.6 325.0 L225.9 327.4 L226.5 329.1 L227.1 330.7 L227.8 329.0 L228.2 332.8 L228.6 334.9 L228.8 335.8 L229.3 338.6 L229.2 340.4 L229.6 342.1 L230.0 344.1 L230.6 346.5 L231.2 345.0 L232.0 343.6 L232.6 343.0 L233.3 344.1 L233.9 343.9 L234.5 343.6 L235.0 346.5 L235.9 346.7 L236.5 347.9 L237.1 344.2 L237.9 344.8 L238.3 344.2 L238.9 343.3 L239.5 341.6 L240.1 344.2 L240.9 341.9 L241.4 341.7 L242.2 342.4 L242.6 342.9 L243.3 342.8 L244.1 343.5 L244.9 342.8 L245.4 341.5 L246.1 343.0 L246.8 340.3 L247.4 342.8 L248.2 342.5 L249.1 340.7 L249.6 341.6 L250.3 343.9 L250.9 344.6 L251.8 343.7 L252.5 343.2 L253.2 344.1 L253.9 343.2 L254.6 344.1 L255.3 345.2 L255.9 345.9 L256.5 345.2 L257.2 346.9 L258.1 345.6 L258.8 347.7 L259.5 347.7 L260.2 349.7 L260.8 347.9 L261.4 347.7 L262.2 348.5 L262.9 348.4 L263.3 346.2 L263.8 348.6 L264.6 346.6 L265.3 343.0 L266.1 348.2 L266.6 343.4 L267.4 346.1 L268.1 345.2 L269.0 343.0 L269.6 344.1 L270.4 344.7 L271.1 343.4 L271.7 344.0 L272.4 342.5 L273.2 343.3 L274.0 341.2 L274.6 341.6 L275.4 341.0 L276.0 342.9 L276.8 340.7 L277.3 340.9 L278.3 340.5 L278.9 339.8 L279.6 340.3 L280.1 340.0 L280.8 338.1 L281.6 340.0 L282.1 336.5 L283.0 337.1 L283.4 336.6 L283.9 336.1 L284.7 335.9 L285.1 334.6 L285.9 333.8 L286.4 332.7 L287.2 332.8 L287.9 331.0 L288.4 328.5 L289.0 327.7 L289.7 325.3 L289.9 323.9 L290.1 321.0 L290.6 316.8 L290.8 318.4 L290.8 316.5 L291.3 313.9 L291.4 310.9 L291.7 310.2 L291.9 308.2 L291.9 306.4 L292.4 304.6 L292.5 302.8 L292.7 301.2 L292.9 300.0 L293.3 297.2 L293.4 295.2 L293.6 293.2 L293.9 290.9 L293.9 288.7 L294.3 286.8 L294.5 285.3 L294.7 282.7 L295.3 282.7 L295.8 281.7 L296.5 283.0 L297.2 281.4 L297.8 280.3 L298.4 279.5 L298.9 277.4 L299.7 278.9 L300.0 280.9 L300.7 280.2 L301.4 278.4 L301.8 279.3 L302.5 279.4 L303.0 277.8 L303.7 279.4 L304.3 280.5 L305.0 281.9 L305.5 285.0 L306.3 285.4 L306.9 283.4 L307.5 282.4 L308.1 280.2 L308.8 279.1 L308.8 277.3 L309.1 274.7 L309.0 272.5 L309.1 270.2 L309.4 268.5 L309.6 266.2 L309.7 264.4 L309.9 262.0 L310.0 260.3 L310.7 258.5 L311.5 256.6 L312.0 254.0 L312.6 256.4 L313.2 257.8 L313.8 259.0 L314.2 257.9 L315.1 256.9 L315.6 260.9 L316.3 256.5 L316.9 258.0 L317.5 259.3 L318.1 260.3 L318.8 261.5 L319.3 262.1 L320.0 255.8 L320.7 256.7 L321.3 255.3 L322.1 257.0 L322.4 257.8 L323.2 257.0 L323.8 257.8 L324.4 257.6 L325.1 257.1 L325.8 255.6 L326.4 251.4 L327.1 252.8 L327.8 252.1 L328.5 252.9 L329.0 253.3 L329.6 254.0 L330.0 252.4 L330.2 250.0 L330.6 248.8 L330.8 246.5 L331.1 248.3 L331.4 250.9 L331.8 252.5 L332.0 254.2 L332.4 256.2 L332.6 257.8 L333.4 257.2 L333.7 256.1 L334.4 253.6 L335.1 254.0 L335.9 254.4 L336.4 253.3 L337.1 251.5 L337.5 249.9 L337.8 248.1 L338.4 246.6 L338.9 244.7 L339.5 247.0 L340.0 247.6 L340.6 250.3 L341.3 249.3 L341.9 252.2 L342.8 249.7 L343.1 251.3 L343.9 251.5 L344.6 253.3 L345.0 254.6 L345.7 255.6 L346.4 255.3 L347.1 255.8 L347.5 256.3 L348.1 256.3 L348.9 256.5 L349.3 254.4 L350.2 253.4 L350.6 254.1 L351.4 252.8 L352.0 254.0 L352.6 255.7 L353.3 256.9 L353.9 259.0 L354.4 260.9 L355.0 262.6 L355.7 264.1 L356.2 266.5 L356.9 268.1 L357.7 270.3 L358.4 268.9 L359.2 273.1 L359.7 271.1 L360.2 272.8 L360.7 273.1 L361.2 272.2 L362.2 273.6 L362.7 270.3 L363.5 270.4 L363.8 273.7 L364.4 273.0 L365.2 274.1 L365.9 272.0 L366.7 269.8 L367.2 267.8 L367.5 265.8 L367.8 263.6 L368.3 261.7 L368.6 260.6 L369.0 257.8 L369.0 255.3 L369.3 254.5 L369.5 251.4 L369.5 250.1 L369.5 245.0 L369.7 245.5 L369.9 241.1 L369.9 241.0 L370.2 240.1 L370.2 237.7 L370.6 236.6 L371.1 237.5 L372.0 235.2 L372.1 238.6 L372.4 239.5 L372.6 240.7 L373.0 245.6 L372.8 245.3 L373.2 247.8 L373.4 245.2 L373.6 244.3 L374.0 239.2 L374.2 239.9 L374.7 238.3 L374.7 236.5 L375.3 236.2 L375.9 236.9 L376.5 240.4 L377.2 239.0 L378.0 239.6 L378.5 237.8 L379.0 236.8 L379.7 235.2 L380.4 236.0 L380.9 235.3 L381.6 234.7 L382.2 234.0 L382.6 235.4 L383.2 237.7 L383.3 239.8 L383.7 240.9 L384.0 242.7 L384.9 240.6 L385.2 239.3 L385.8 239.0 L386.0 240.7 L386.5 242.6 L386.9 244.0 L387.4 246.8 L387.8 247.8 L388.4 245.7 L389.1 240.8 L389.8 245.2 L390.2 248.0 L390.7 247.1 L391.4 251.2 L391.8 253.3 L392.3 255.3 L392.9 253.8 L393.6 252.3 L394.1 253.1 L394.8 251.5 L395.3 251.2 L396.1 251.7 L396.7 251.8 L397.3 250.3 L397.9 253.0 L398.5 252.2 L399.0 252.2 L399.8 252.8 L400.2 248.5 L401.0 249.2 L401.6 247.8 L402.3 249.5 L402.9 249.0 L403.5 250.2 L404.1 251.5 L404.2 254.1 L404.5 252.1 L404.8 257.7 L405.1 259.7 L405.3 261.5 L405.9 264.0 L406.7 263.2 L407.3 264.1 L407.9 264.6 L408.5 267.4 L409.2 262.6 L409.8 262.8 L410.4 262.0 L411.1 264.6 L411.8 263.2 L412.3 261.5 L412.7 262.7 L413.6 261.5 L414.1 263.2 L414.8 264.1 L415.5 264.1 L416.0 265.6 L416.6 266.8 L417.4 267.8 L417.9 270.1 L418.4 271.3 L419.2 271.9 L419.9 274.1 L419.8 275.8 L420.2 278.3 L420.3 279.8 L420.6 281.5 L420.7 284.2 L420.7 285.4 L421.1 287.9 L421.5 293.0 L421.6 292.1 L421.9 294.5 L422.1 296.6 L422.4 297.9 L422.8 295.7 L423.1 291.6 L423.4 289.7 L423.9 286.8 L424.1 289.1 L424.8 286.1 L425.4 285.3 L426.1 282.9 L426.2 282.0 L426.5 278.8 L426.4 277.9 L426.8 275.6 L426.8 273.7 L427.1 270.5 L427.1 268.9 L427.4 266.9 L427.4 265.3 L427.8 263.9 L428.1 262.6 L428.6 260.3 L428.6 258.8 L428.9 256.2 L429.0 254.5 L429.2 251.7 L429.1 250.8 L429.2 248.1 L429.3 245.6 L429.4 244.5 L429.6 242.7 L430.1 240.5 L430.4 238.2 L430.9 237.7 L431.0 235.1 L431.1 232.8 L431.5 231.6 L431.4 229.2 L431.6 227.9 L431.8 226.2 L431.9 223.2 L432.0 226.4 L432.3 227.7 L432.3 227.7 L432.3 231.0 L432.6 233.3 L432.8 235.8 L432.9 237.7 L433.3 238.4 L433.8 238.3 L434.4 240.2 L435.0 238.6 L435.3 237.7 L435.9 235.2 L436.3 233.6 L436.5 231.0 L436.7 229.3 L437.0 227.0 L437.1 224.5 L437.4 222.7 L437.6 221.2 L437.7 219.7 L438.2 216.3 L438.1 214.7 L438.4 212.6 L439.1 210.7 L439.3 210.8 L439.9 206.4 L440.3 208.0 L441.2 212.2 L441.7 211.4 L442.2 209.8 L442.4 207.6 L442.7 206.1 L443.1 204.9 L443.4 202.6 L444.0 203.2 L444.7 203.8 L445.4 205.1 L446.3 203.0 L446.8 201.6 L447.4 198.8 L448.0 201.2 L448.8 201.5 L449.2 202.6 L449.4 204.6 L449.9 207.0 L450.0 208.5 L450.2 211.3 L450.4 212.6 L450.6 209.9 L450.8 208.4 L451.2 206.2 L451.2 203.5 L451.4 202.7 L451.6 199.9 L451.6 196.3 L452.0 196.3 L452.4 198.7 L452.9 201.0 L453.5 202.6 L454.3 203.9 L454.7 205.6 L455.5 207.6 L456.1 206.1 L456.8 204.5 L457.4 203.5 L458.0 202.6 L458.6 204.3 L459.3 203.7 L459.9 204.4 L460.5 206.4 L461.1 208.5 L461.4 209.9 L462.3 212.1 L462.5 213.9 L463.0 212.3 L463.6 210.6 L464.2 208.9 L464.5 206.8 L464.8 204.7 L465.0 203.0 L465.4 201.7 L465.7 199.8 L466.0 197.6 L466.6 195.8 L466.9 195.2 L467.5 193.8 L468.0 196.2 L468.4 198.2 L468.7 199.5 L469.3 201.4 L469.8 201.3 L470.4 198.2 L471.2 196.3 L471.8 197.6 L472.4 198.1 L472.9 198.8 L473.8 196.7 L474.3 201.4 L475.0 203.1 L475.5 203.7 L476.1 205.9 L476.8 205.1 L477.5 202.9 L478.0 202.7 L478.5 200.2 L479.3 198.8 L479.9 199.5 L480.4 201.8 L481.3 202.5 L481.8 201.4 L482.3 202.1 L483.0 202.8 L483.7 201.7 L484.4 204.1 L485.0 201.2 L485.6 202.6 L486.0 204.8 L487.0 202.9 L487.5 202.9 L488.2 205.0 L488.7 204.2 L489.3 203.9 L489.9 203.6 L490.5 202.5 L491.3 204.2 L492.0 202.1 L492.6 202.6 L493.0 200.9 L493.0 198.2 L493.4 196.7 L493.5 194.8 L494.1 192.2 L494.3 190.1 L494.7 189.4 L495.0 186.2 L495.4 185.1 L495.6 182.6 L496.3 182.0 L496.8 183.9 L497.6 183.1 L498.1 183.8 L498.8 181.3 L499.5 181.8 L500.0 180.5 L500.6 178.8 L501.4 179.7 L501.9 179.3 L502.6 176.3 L503.0 177.6 L503.8 180.3 L504.4 181.3 L504.9 180.3 L505.6 180.2 L506.2 179.0 L506.9 180.1 L507.5 181.8 L507.9 183.2 L508.6 185.1 L509.1 185.5 L509.6 187.6 L510.1 188.8 L510.5 187.6 L510.9 184.7 L511.3 182.6 L511.9 181.3 L512.2 183.4 L512.7 185.5 L513.1 186.8 L513.6 188.8 L514.3 191.9 L515.0 193.2 L515.6 195.1 L516.4 197.2 L517.1 198.8 L517.6 200.1 L518.1 203.0 L518.3 200.4 L518.7 205.9 L519.1 206.2 L519.4 208.9 L520.2 207.9 L520.6 207.1 L521.3 209.1 L521.9 207.6 L522.7 207.6 L523.3 208.0 L523.9 209.6 L524.4 210.1 L525.0 213.3 L525.6 211.6 L526.6 208.5 L527.0 209.7 L527.7 208.9 L527.8 206.9 L528.2 204.4 L528.4 202.4 L528.7 201.5 L528.9 199.1 L529.3 196.9 L529.4 195.1 L529.7 193.7 L529.9 190.9 L530.3 191.4 L530.5 187.6 L530.7 185.1 L531.3 186.8 L532.0 188.8 L532.7 191.3 L533.3 190.2 L533.8 188.5 L534.5 187.6 L534.9 188.4 L535.7 189.1 L536.3 189.1 L537.0 190.1 L537.5 188.9 L538.3 190.0 L538.8 188.0 L539.5 187.6 L540.0 187.6 L540.3 189.6 L540.7 190.8 L540.9 192.7 L541.0 195.2 L541.2 196.4 L541.6 199.4 L541.7 200.1 L542.1 199.6 L542.5 203.9 L543.0 201.1 L544.1 200.2 L544.5 197.6 L545.0 198.1 L545.7 193.5 L546.3 196.4 L546.9 195.2 L547.6 193.2 L548.0 191.4 L548.6 189.9 L549.4 192.1 L550.0 190.1 L550.6 187.9 L551.3 188.0 L551.8 186.9 L552.3 188.4 L552.7 190.2 L553.3 192.5 L553.8 193.9 L554.5 193.5 L555.0 192.9 L555.5 193.9 L555.9 194.8 L556.4 197.0 L556.7 199.0 L557.1 201.1 L557.5 202.7 L558.2 204.6 L558.9 205.5 L559.6 207.7 L560.2 206.3 L561.0 204.8 L561.3 203.9 L561.9 200.8 L562.5 201.6 L563.1 201.4 L563.4 202.8 L563.5 204.6 L564.2 206.6 L564.4 208.8 L564.6 210.2 L565.3 212.4 L565.8 215.6 L566.3 215.2 L566.5 217.0 L567.2 218.2 L567.6 220.2 L568.3 218.7 L568.8 214.8 L569.6 215.7 L570.3 215.9 L570.8 215.1 L571.5 212.7 L572.1 212.7 L572.7 210.7 L573.2 211.8 L573.9 208.9 L574.4 209.9 L575.0 211.9 L575.6 212.7 L576.2 211.9 L577.0 212.1 L577.6 210.2 L578.4 209.8 L579.1 208.0 L579.6 208.9 L580.2 210.6 L580.5 212.4 L581.0 213.6 L581.4 215.7 L581.9 213.5 L582.3 213.8 L583.1 211.4 L583.8 211.1 L584.6 208.6 L585.1 210.2 L585.7 209.3 L586.4 214.3 L587.0 214.1 L587.6 213.9 L588.1 213.8 L588.9 214.2 L589.6 211.4 L590.1 211.3 L590.8 210.1 L591.4 211.2 L591.9 209.7 L592.5 209.3 L593.2 213.9 L593.9 215.2 L594.4 215.8 L595.0 218.1 L595.7 219.0 L596.3 220.7 L597.0 221.7 L597.7 221.5 L598.3 219.9 L599.2 218.0 L599.7 216.4 L600.3 215.4 L600.9 217.5 L601.4 213.9 L602.0 211.7 L602.7 210.4 L603.2 208.9 L603.8 207.7 L604.1 204.6 L604.7 203.9 L605.2 202.5 L605.7 201.4 L606.2 199.0 L606.6 203.7 L607.2 205.2 L607.8 206.4 L608.3 204.9 L609.0 203.9 L609.6 205.8 L610.2 207.8 L610.7 210.2 L611.3 212.5 L611.9 210.1 L612.7 213.9 L613.3 213.2 L614.0 212.5 L614.7 211.4 L615.3 212.2 L616.0 212.7 L616.5 212.7 L617.1 210.7 L617.7 211.4 L618.2 210.2 L618.8 209.8 L619.6 209.6 L620.2 211.4 L620.9 213.0 L621.1 214.1 L621.8 215.2 L622.1 216.4 L622.1 219.2 L622.3 220.5 L622.5 223.0 L622.5 224.9 L622.8 226.5 L623.3 226.3 L624.0 225.2 L624.3 223.1 L624.5 221.4 L624.7 220.9 L624.9 218.4 L624.9 214.3 L625.3 212.7 L625.7 214.1 L626.1 215.9 L626.8 217.7 L627.4 217.2 L627.8 217.4 L628.3 215.7 L629.0 215.4 L629.6 217.7 L630.3 219.0 L631.0 218.0 L631.7 220.7 L632.3 221.5 L632.7 222.6 L633.2 224.4 L633.8 226.5 L634.6 227.5 L635.0 223.8 L635.8 224.0 L636.5 222.4 L637.0 222.1 L637.7 223.2 L638.3 222.7 L639.0 221.4 L639.5 223.1 L640.3 224.0 L640.9 222.1 L641.8 221.7 L642.3 222.2 L642.9 223.9 L643.0 223.7 L643.6 227.7 L643.9 229.2 L644.2 231.5 L644.4 232.5 L644.8 234.8 L645.3 232.8 L645.8 231.1 L646.3 230.2 L646.9 228.2 L647.3 226.0 L647.8 224.0 L648.4 222.8 L648.6 220.5 L649.1 217.7 L649.6 219.2 L650.3 216.6 L650.8 216.4 L651.4 216.7 L652.2 216.3 L652.8 217.7 L653.6 218.1 L654.0 216.8 L654.8 215.7 L655.3 214.3 L656.1 212.7 L656.3 210.5 L656.7 208.6 L656.8 207.5 L657.1 205.2 L657.2 203.6 L657.4 201.4 L657.6 197.6 L657.9 196.7 L658.1 194.4 L658.4 192.6 L658.7 188.7 L658.8 188.4 L659.0 186.2 L659.3 185.5 L659.6 182.6 L659.9 181.3 L660.4 182.0 L661.0 184.0 L661.6 183.8 L662.3 181.0 L662.9 180.1 L663.3 179.0 L663.4 176.4 L663.8 175.3 L664.1 173.1 L664.7 176.6 L665.1 176.2 L665.4 177.6 L666.1 178.1 L666.5 175.7 L667.4 176.3 L668.0 178.2 L668.5 178.4 L669.1 180.1 L669.9 179.5 L670.2 178.8 L670.9 177.6 L671.5 179.5 L672.3 177.7 L672.9 181.3 L673.6 180.0 L674.4 178.1 L674.9 178.8 L675.6 178.7 L675.8 180.5 L676.7 182.6 L677.3 181.2 L677.7 178.3 L678.4 176.3 L678.9 175.5 L679.4 173.8 L679.9 176.4 L680.5 178.1 L680.9 180.1 L681.6 179.6 L682.3 177.7 L682.9 177.6 L683.5 176.6 L684.3 177.9 L684.7 176.1 L685.4 176.3 L686.3 175.6 L686.8 175.0 L687.4 172.6 L688.2 173.8 L688.5 175.1 L689.2 175.1 L689.8 177.0 L690.3 178.2 L691.0 178.8 L691.5 176.9 L691.9 173.0 L692.5 173.8 L693.0 175.9 L693.5 177.3 L694.0 180.1 L694.7 180.9 L695.3 182.3 L696.0 182.6 L696.5 183.2 L697.3 183.0 L697.7 182.1 L698.5 181.3 L699.0 183.3 L699.5 182.1 L700.4 179.7 L701.0 182.1 L701.7 181.0 L702.3 180.5 L703.0 178.8 L703.6 178.5 L704.2 179.6 L705.0 180.1 L705.6 178.4 L706.4 176.0 L707.0 176.3 L707.8 177.6 L708.3 177.3 L709.0 178.8 L709.6 177.1 L710.0 175.5 L710.5 173.8 L710.9 172.1 L711.5 169.6 L711.8 172.1 L712.1 173.7 L712.5 176.6 L712.7 179.1 L713.0 180.1 L713.6 181.2 L714.4 181.0 L715.0 181.3 L715.6 181.5 L716.3 183.0 L717.1 181.2 L717.5 181.3 L718.3 181.8 L718.8 181.9 L719.4 183.5 L720.0 183.8 L720.4 183.5 L721.2 183.0 L721.9 181.2 L722.5 182.1 L723.2 184.5 L723.8 180.6 L724.5 183.6 L725.1 183.8 L725.6 180.2 L726.3 180.6 L726.9 181.7 L727.5 183.5 L728.1 184.6 L729.0 186.4 L729.3 185.2 L730.0 181.4 L730.6 183.8 L731.4 186.0 L731.6 184.2 L732.5 184.9 L733.1 185.1 L733.7 187.2 L734.2 189.6 L734.6 191.4 L735.1 192.0 L736.0 189.2 L736.6 190.1 L737.3 189.4 L738.0 186.8 L738.6 187.6 L739.2 187.7 L739.9 189.6 L740.6 189.6 L741.1 189.5 L742.1 190.5 L742.6 188.3 L743.1 188.9 L743.6 188.9 L744.4 189.6 L745.0 190.8 L745.6 190.1 L746.3 189.8 L746.9 190.4 L747.4 188.9 L748.1 188.9 L748.9 190.0 L749.5 189.8 L750.0 191.1 L750.6 190.6 L751.3 191.4 L752.1 192.8 L752.5 192.2 L753.1 193.1 L753.6 191.1 L754.2 190.6 L754.6 187.9 L755.1 186.4 L755.7 187.6 L756.4 190.5 L756.9 191.4 L757.6 191.3 L758.2 191.6 L758.8 192.9 L759.4 190.1 L760.2 190.1 L760.8 191.4 L761.4 194.4 L761.9 192.6 L762.6 193.1 L763.2 192.4 L763.9 192.6 L764.4 192.1 L765.2 192.8 L765.6 193.1 L766.3 192.6 L766.9 193.1 L767.6 192.5 L768.1 192.0 L768.7 191.7 L769.4 189.6 L770.1 187.2 L770.6 186.3 L771.2 183.8 L771.8 184.0 L772.5 186.2 L773.2 187.6 L773.9 188.5 L774.4 187.3 L775.0 189.7 L775.7 188.9 L776.5 189.8 L777.0 188.9 L777.4 187.6 L778.2 188.1 L778.8 188.7 L779.4 188.4 L780.0 189.1 L780.8 188.2 L781.2 189.0 L782.0 189.1 L782.5 188.3 L783.1 187.2 L783.9 190.0 L784.3 188.3 L785.0 189.1 L785.8 188.8 L786.2 191.0 L787.0 189.9 L787.5 190.3 L788.1 191.8 L788.6 191.8 L789.3 194.1 L789.5 196.0 L789.7 197.4 L790.0 198.9 L790.5 200.9 L790.5 202.9 L790.7 204.1 L791.0 205.5 L791.0 208.9 L791.3 211.3 L791.4 213.3 L791.5 215.4 L791.9 217.0 L792.4 219.7 L793.0 221.7 L793.4 222.5 L794.1 222.0 L794.5 223.5 L795.0 222.5 L795.7 224.2 L796.3 222.2 L796.8 222.8 L797.5 222.7 L798.1 223.0 L798.8 221.4 L799.5 222.6 L800.1 221.7 L800.6 222.5 L801.4 222.4 L802.1 223.0 L802.7 224.3 L803.1 225.5 L803.5 224.9 L804.0 222.0 L804.3 220.4 L804.7 216.4 L804.9 217.1 L805.1 215.9 L805.6 218.4 L805.9 219.3 L806.4 221.7 L806.7 220.7 L807.6 222.9 L808.1 223.0 L808.6 221.3 L809.5 225.0 L810.1 223.7 L810.7 222.8 L811.5 223.5 L812.1 222.5 L812.8 222.3 L813.5 223.1 L814.1 223.0 L814.6 223.0 L815.2 224.0 L815.9 224.2 L816.4 222.2 L817.0 223.3 L817.6 223.0 L817.6 221.3 L818.0 218.4 L818.1 217.1 L818.0 215.3 L818.3 213.4 L818.1 212.4 L818.2 210.7 L818.4 207.9 L818.8 206.0 L819.1 204.1 L819.6 205.6 L820.1 207.7 L820.6 209.2 L821.2 208.8 L821.7 208.6 L822.2 208.4 L822.3 211.0 L822.6 212.7 L822.7 214.4 L822.7 216.7 L823.1 217.5 L823.2 220.4 L823.8 222.1 L824.2 222.7 L824.7 224.2 L825.0 224.8 L825.7 225.8 L826.2 227.2 L826.7 226.3 L827.1 224.6 L827.7 224.2 L828.3 224.5 L829.0 223.7 L829.7 223.5 L830.3 224.7 L830.9 224.0 L831.7 224.7 L832.1 224.8 L833.0 225.5 L833.7 225.5 L834.4 224.7 L835.2 223.2 L835.7 224.2 L836.4 224.7 L837.1 223.9 L837.7 225.5 L838.3 223.7 L838.6 224.8 L839.2 223.0 L839.8 220.3 L840.2 219.2 L840.4 221.2 L840.8 222.6 L841.2 224.2 L841.9 224.1 L842.5 222.7 L843.2 223.5 L843.9 224.0 L844.6 223.6 L845.2 224.7 L845.8 225.1 L846.5 225.4 L847.2 225.5 L847.8 226.6 L848.3 228.0 L848.5 232.8 L848.9 230.6 L849.0 233.0 L849.3 231.3 L849.4 229.2 L849.6 227.7 L849.8 225.5 L850.2 224.8 L850.6 222.9 L851.3 223.0 L851.7 221.8 L852.4 220.4 L852.8 219.9 L853.3 219.5 L853.8 219.1 L854.3 219.2 L854.8 217.9 L855.3 217.9 L855.8 216.7 L856.3 215.7 L856.7 217.3 L857.3 217.9 L857.6 216.3 L858.3 215.4 L858.7 216.1 L859.4 216.2 L859.8 217.4 L860.2 214.5 L860.9 216.0 L861.6 215.9 L862.3 215.5 L862.6 215.6 L863.3 214.2 L863.8 211.5 L864.3 209.9 L864.7 211.3 L865.3 212.9 L866.0 211.4 L866.6 209.2 L867.1 208.9 L867.8 210.9 L868.3 210.4 L868.8 213.9 L869.3 213.8 L869.8 212.9 L870.3 214.5 L870.8 215.0 L871.3 216.7 L871.9 218.9 L872.5 218.1 L873.4 217.4 L874.2 218.7 L874.7 216.6 L875.4 216.7 L876.2 218.0 L876.6 218.2 L877.4 217.9 L877.8 218.5 L878.4 217.2 L878.9 220.4 L879.3 223.5 L879.9 221.7 L880.3 221.7 L880.9 218.8 L881.4 219.9 L882.1 219.0 L882.6 220.8 L883.4 220.4 L884.0 219.0 L884.5 218.0 L884.9 217.9 L885.4 216.2 L886.0 215.9 L886.4 214.2 L886.8 214.1 L887.5 213.1 L887.9 211.7 L888.4 214.1 L888.9 213.1 L889.4 212.4 L889.8 210.9 L890.5 211.9 L890.9 210.9 L891.3 210.4 L891.8 211.3 L892.4 212.2 L892.7 211.2 L893.3 210.5 L893.9 209.2 L894.2 207.8 L894.8 205.8 L894.9 204.1 L895.4 201.7 L895.7 199.8 L895.9 199.1 L896.5 200.8 L896.9 202.9 L897.2 204.6 L897.9 206.7 L898.5 207.3 L899.1 207.7 L899.5 207.9 L899.8 208.1 L900.5 208.8 L901.0 205.4 L901.6 208.8 L901.9 207.2 L902.5 207.9 L902.9 204.7 L903.4 205.7 L904.0 204.1 L904.4 204.3 L905.0 205.3 L905.5 206.7 L906.0 204.9 L906.5 202.1 L907.0 202.4 L907.5 201.3 L907.8 204.0 L908.5 202.9 L909.0 204.5 L909.5 203.3 L910.0 203.4 L910.4 201.7 L911.1 202.6 L911.5 202.9 L912.0 204.0 L912.4 205.7 L913.0 206.7 L913.5 206.3 L914.1 205.3 L914.5 207.9 L915.0 210.6 L915.5 210.4 L916.0 210.4 L916.6 211.2 L917.1 214.8 L917.5 215.4 L918.0 215.1 L918.6 215.2 L919.0 214.2 L919.4 213.8 L920.1 213.8 L920.5 215.9 L921.1 215.2 L921.7 216.0 L922.0 214.2 L922.7 214.8 L923.4 213.3 L924.0 214.9 L924.7 215.0 L925.5 214.9 L926.0 213.4 L926.6 212.6 L927.3 210.4 L927.5 208.5 L927.7 207.1 L928.1 204.1 L928.4 202.3 L928.7 200.6 L929.1 197.9 L929.7 196.8 L930.0 195.9 L930.6 196.6 L931.1 197.0 L931.6 198.1 L932.1 198.4 L932.6 196.8 L933.0 197.4 L933.6 196.6 L934.1 194.5 L934.5 195.5 L935.1 194.1 L935.4 192.9 L936.1 190.3 L936.5 188.9 L937.2 187.4 L937.6 185.3 L938.2 185.1 L938.5 185.7 L939.1 186.6 L939.5 185.0 L940.0 183.7 L940.6 181.6 L941.1 181.9 L941.7 184.2 L942.1 185.3 L942.7 182.6 L942.8 181.8 L943.1 180.3 L943.8 178.3 L944.4 177.8 L944.6 176.2 L945.0 174.6 L945.1 172.8 L945.0 171.2 L945.3 169.4 L945.6 166.1 L945.6 165.2 L945.7 162.7 L946.0 159.5 L945.8 159.8 L945.9 156.8 L946.1 155.2 L946.2 153.6 L946.1 151.5 L946.1 149.0 L946.3 146.9 L946.4 145.2" fill="none" stroke="#0d0d0d" stroke-width="0.95" stroke-linejoin="round"/>
<line x1="72" x2="72" y1="105" y2="486.2" stroke="#f6a6a9" stroke-width="2"/>
<line x1="950.7" x2="950.7" y1="104.5" y2="485.5" stroke="#1a1a1a" stroke-width="1.9"/>
<g font-size="7.2" fill="#333"><circle cx="62.5" cy="87.3" r="2.3" fill="#c4532f"/><text x="67.8" y="89.9" fill="#757575" textLength="52.8" lengthAdjust="spacingAndGlyphs">BTC: STH-SOPR</text><line x1="59.5" x2="121.1" y1="87.4" y2="87.4" stroke="#6a6a6a" stroke-width="0.85"/><circle cx="137.8" cy="87.3" r="2.3" fill="#d2380c"/><text x="142.8" y="89.9" fill="#757575" textLength="54.1" lengthAdjust="spacingAndGlyphs">BTC: STH-MVRV</text><line x1="134.8" x2="197.4" y1="87.4" y2="87.4" stroke="#6a6a6a" stroke-width="0.85"/><circle cx="213.4" cy="87.3" r="2.3" fill="#f08080"/><text x="219" y="89.9" fill="#3a3a3a" textLength="147.9" lengthAdjust="spacingAndGlyphs">STH Delta Ratio: [(Spending - Holding)/ Price]</text><circle cx="383.1" cy="87.3" r="2.3" fill="#000"/><text x="388.75" y="89.9" fill="#3a3a3a" textLength="55" lengthAdjust="spacingAndGlyphs">BTC: Price [USD]</text><circle cx="460.3" cy="87.3" r="2.3" fill="#f7931a"/><text x="465.6" y="89.9" fill="#757575" textLength="84.1" lengthAdjust="spacingAndGlyphs">BTC: Realized Price [USD]</text><line x1="457.3" x2="550.2" y1="87.4" y2="87.4" stroke="#6a6a6a" stroke-width="0.85"/><circle cx="566.25" cy="87.3" r="2.3" fill="#2f80ed"/><text x="571.9" y="89.9" fill="#3a3a3a" textLength="110.3" lengthAdjust="spacingAndGlyphs">STH- Hodling Cost Basis (30DMA)</text><circle cx="699.4" cy="87.3" r="1.6" fill="#d9b8e8"/><text x="702.5" y="89.9" fill="#757575" textLength="33.75" lengthAdjust="spacingAndGlyphs">Transition</text><line x1="696.4" x2="736.75" y1="87.4" y2="87.4" stroke="#6a6a6a" stroke-width="0.85"/><circle cx="753.1" cy="87.3" r="2.3" fill="#1dbf3e"/><text x="758.75" y="89.9" fill="#3a3a3a" textLength="114.35" lengthAdjust="spacingAndGlyphs">STH-Spending Cost Basis (30DMA)</text><text x="895.6" y="89.9" fill="#333" textLength="8.6" lengthAdjust="spacingAndGlyphs">---</text></g>
<g font-size="8.4" fill="#555"><text x="65.6" y="199.2" text-anchor="end">0.8</text><text x="65.6" y="294.1" text-anchor="end">0.4</text><text x="65.6" y="389.0" text-anchor="end">0</text><text x="65.6" y="484.0" text-anchor="end">-0.4</text><text x="957.3" y="484.2" font-size="7.6">10K</text></g>
<g font-size="8.6" fill="#555"><text x="123.4" y="503.8" text-anchor="middle">Nov '22</text><text x="192.5" y="503.8" text-anchor="middle">Dec '22</text><text x="264.0" y="503.8" text-anchor="middle">Jan '23</text><text x="335.3" y="503.8" text-anchor="middle">Feb '23</text><text x="399.8" y="503.8" text-anchor="middle">Mar '23</text><text x="471.2" y="503.8" text-anchor="middle">Apr '23</text><text x="540.3" y="503.8" text-anchor="middle">May '23</text><text x="611.7" y="503.8" text-anchor="middle">Jun '23</text><text x="680.8" y="503.8" text-anchor="middle">Jul '23</text><text x="752.3" y="503.8" text-anchor="middle">Aug '23</text><text x="823.7" y="503.8" text-anchor="middle">Sep '23</text><text x="892.7" y="503.8" text-anchor="middle">Oct '23</text></g>
<text x="918" y="563.8" font-size="16.8" fill="#1c1c1c" stroke="#1c1c1c" stroke-width="0.45" textLength="84.3" lengthAdjust="spacingAndGlyphs">glassnode</text>
<!-- annotations -->
<g text-anchor="middle" stroke-width="0.3">
<g font-size="11.5" font-weight="700">
<text x="361.05" y="204" fill="#12b77c" stroke="#12b77c" textLength="130.3" lengthAdjust="spacingAndGlyphs">STH Spent Cost Basis</text>
<text x="636" y="246.6" fill="#1763ff" stroke="#1763ff" textLength="91.8" lengthAdjust="spacingAndGlyphs">STH Cost Basis</text>
<text x="837.9" y="287.6" fill="#fb1560" stroke="#fb1560" textLength="198.8" lengthAdjust="spacingAndGlyphs">Approaching Positive Cross-over</text>
<text x="831.7" y="437.3" fill="#fb1560" stroke="#fb1560" textLength="149.8" lengthAdjust="spacingAndGlyphs">STH Investor Confidence</text>
<text x="832.15" y="452.1" fill="#fb1560" stroke="#fb1560" textLength="103.1" lengthAdjust="spacingAndGlyphs">Trending Positive</text>
</g>
<g font-size="11.8" font-style="italic">
<text x="360.4" y="219.2" fill="#12b77c" textLength="83.3" lengthAdjust="spacingAndGlyphs">(Spent Supply)</text>
<text x="636.3" y="261.3" fill="#1f69ff" textLength="78" lengthAdjust="spacingAndGlyphs">(Held Supply)</text>
<text x="832" y="467.1" fill="#fb1560" textLength="151.8" lengthAdjust="spacingAndGlyphs">(Spent Basis &gt; Held Basis)</text>
</g>
</g>
<line x1="309.8" x2="487" y1="224.1" y2="224.1" stroke="#3ecb98" stroke-width="1.4" stroke-dasharray="2.3 2.1"/>
<line x1="507" x2="683" y1="267.8" y2="267.8" stroke="#3f80ff" stroke-width="1.4" stroke-dasharray="2.2 2.1"/>
<line x1="732.9" x2="942.6" y1="295.4" y2="295.4" stroke="#fb1560" stroke-width="1.2" stroke-dasharray="2.1 1.8"/>
<line x1="942.5" x2="942.5" y1="212" y2="295.4" stroke="#fb1560" stroke-width="1.2" stroke-dasharray="3.3 2.5"/>
<circle cx="944.4" cy="204.3" r="6.9" fill="#fbc6d6" fill-opacity="0.72" stroke="#fb1560" stroke-width="1.15" stroke-dasharray="2.5 1.85"/>
<g fill="none" stroke="#fb1560" stroke-width="1.8" stroke-linecap="round" stroke-linejoin="round"><path d="M859.3 417.8 L947.8 398.3"/><path d="M941.3 394.4 L948 398.2 L943.3 404.2"/></g>
</svg>
<div class="foot">© 2023 Glassnode. All Rights Reserved.</div>
</body></html>
